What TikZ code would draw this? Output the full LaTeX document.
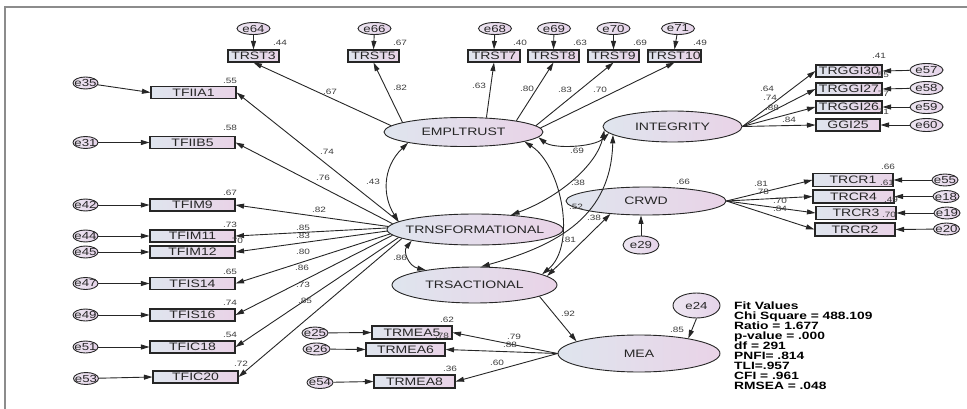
\documentclass[tikz,border=0pt]{standalone}
\usepackage{fontspec}
\setmainfont{Liberation Sans}
\newfontfamily\amos[FakeStretch=1.3]{Liberation Sans}
\usetikzlibrary{shapes.geometric,arrows.meta,calc}

\definecolor{shadeL}{HTML}{DFE5EE}
\definecolor{shadeR}{HTML}{E9D3E7}
\definecolor{errL}{HTML}{EDE6F1}
\definecolor{errR}{HTML}{E5D3E9}
\definecolor{ink}{HTML}{262626}
\definecolor{numcol}{HTML}{3C3C3C}
\definecolor{framecol}{HTML}{8C8C8C}

% zero-width text so the shapes keep their given size
\newcommand\zw[1]{\makebox[0pt]{#1}}

\tikzset{
  obs/.style={rectangle, draw=ink, line width=1.1pt, left color=shadeL, right color=shadeR,
    inner sep=0pt, minimum height=12pt, text=ink, font=\amos\fontsize{10.8}{12}\selectfont},
  lat/.style={ellipse, draw=ink, line width=0.9pt, left color=shadeL, right color=shadeR,
    inner sep=0pt, text=ink, font=\amos\fontsize{10.8}{12}\selectfont},
  err/.style={ellipse, draw=ink, line width=0.9pt, left color=errL, right color=errR,
    inner sep=0pt, minimum width=33pt, minimum height=12pt, text=ink,
    font=\amos\fontsize{10.2}{12}\selectfont},
  errs/.style={err, minimum width=25pt},
  num/.style={inner sep=0pt, text=numcol, font=\amos\fontsize{7.7}{9}\selectfont},
  fitline/.style={inner sep=0pt, anchor=base west, text=black,
    font=\amos\bfseries\fontsize{10.6}{12}\selectfont},
  tip/.tip={Triangle[length=8.5pt,width=5pt]},
  link/.style={draw=ink, line width=0.9pt, -tip},
  cov/.style={draw=ink, line width=0.9pt, tip-tip},
}

\begin{document}
\begin{tikzpicture}[x=1pt,y=-1pt]
\useasboundingbox (0,0) rectangle (967,409);

% page frame
\draw[framecol, line width=1.4pt] (5,409) -- (5,7) -- (967,7);

% ---------- latent variables ----------
\node[lat, minimum width=159, minimum height=29] (emp)   at (463.5,132)   {\zw{EMPLTRUST}};
\node[lat, minimum width=139, minimum height=31] (integ) at (672.5,126.5) {\zw{INTEGRITY}};
\node[lat, minimum width=160, minimum height=28] (crwd)  at (646,201)     {\zw{CRWD}};
\node[lat, minimum width=176, minimum height=31] (trns)  at (475,229.5)   {\zw{TRNSFORMATIONAL}};
\node[lat, minimum width=165, minimum height=36] (trsa)  at (474.5,285)   {\zw{TRSACTIONAL}};
\node[lat, minimum width=162, minimum height=37] (mea)   at (639,353.5)   {\zw{MEA}};
\node[err, minimum width=36, minimum height=18] (e29) at (641,245)   {\zw{e29}};
\node[err, minimum width=47, minimum height=25] (e24) at (696.5,305.5) {\zw{e24}};

% ---------- trust items (top row) ----------
\node[obs, minimum width=51] (trst3)  at (253.5,56) {\zw{TRST3}};
\node[obs, minimum width=51] (trst5)  at (373.5,56) {\zw{TRST5}};
\node[obs, minimum width=52] (trst7)  at (494,56)   {\zw{TRST7}};
\node[obs, minimum width=51] (trst8)  at (553.5,56) {\zw{TRST8}};
\node[obs, minimum width=51] (trst9)  at (613.5,56) {\zw{TRST9}};
\node[obs, minimum width=53] (trst10) at (674.5,56) {\zw{TRST10}};
\node[err] (e64) at (253.5,28.5) {\zw{e64}};
\node[err] (e66) at (374.5,28.5) {\zw{e66}};
\node[err] (e68) at (495,28.5)   {\zw{e68}};
\node[err] (e69) at (554,28.5)   {\zw{e69}};
\node[err] (e70) at (613.5,28.5) {\zw{e70}};
\node[err] (e71) at (678,28.5)   {\zw{e71}};
\foreach \e/\b in {e64/trst3,e66/trst5,e68/trst7,e69/trst8,e70/trst9,e71/trst10}
  \draw[link] (\e) -- (\b.north);

% ---------- transformational items (left column) ----------
\node[obs, minimum width=85] (tfiia1) at (193.5,92.5) {\zw{TFIIA1}};
\node[obs, minimum width=85] (tfiib5) at (192.5,142.5) {\zw{TFIIB5}};
\node[obs, minimum width=85] (tfim9)  at (192.5,205)  {\zw{TFIM9}};
\node[obs, minimum width=85] (tfim11) at (192.5,236)  {\zw{TFIM11}};
\node[obs, minimum width=85] (tfim12) at (192.5,252)  {\zw{TFIM12}};
\node[obs, minimum width=85] (tfis14) at (192.5,283.5) {\zw{TFIS14}};
\node[obs, minimum width=85] (tfis16) at (192.5,315)  {\zw{TFIS16}};
\node[obs, minimum width=85] (tfic18) at (192.5,347)  {\zw{TFIC18}};
\node[obs, minimum width=85] (tfic20) at (195.5,377)  {\zw{TFIC20}};
\node[errs] (e35) at (85.5,83)    {\zw{e35}};
\node[errs] (e31) at (85.5,142.5) {\zw{e31}};
\node[errs] (e42) at (85.5,205)   {\zw{e42}};
\node[errs] (e44) at (85.5,236)   {\zw{e44}};
\node[errs] (e45) at (85.5,252)   {\zw{e45}};
\node[errs] (e47) at (85.5,283.5) {\zw{e47}};
\node[errs] (e49) at (85.5,315)   {\zw{e49}};
\node[errs] (e51) at (85.5,347)   {\zw{e51}};
\node[errs] (e53) at (86,378.5)   {\zw{e53}};
\foreach \e/\b in {e35/tfiia1,e31/tfiib5,e42/tfim9,e44/tfim11,e45/tfim12,
                   e47/tfis14,e49/tfis16,e51/tfic18,e53/tfic20}
  \draw[link] (\e) -- (\b.west);
\foreach \a/\b in {174/tfiia1,176/tfiib5,178/tfim9,179/tfim11,181/tfim12,
                   183/tfis14,184/tfis16,186/tfic18,187/tfic20}
  \draw[link] (trns.\a) -- (\b.east);

% ---------- integrity items ----------
\node[obs, minimum width=66] (trggi30) at (849,71)  {\zw{TRGGI30}};
\node[obs, minimum width=66] (trggi27) at (849,89)  {\zw{TRGGI27}};
\node[obs, minimum width=66] (trggi26) at (849,107) {\zw{TRGGI26}};
\node[obs, minimum width=64] (ggi25)   at (848,125) {\zw{GGI25}};
\node[err, minimum height=13] (e57) at (926.5,70)  {\zw{e57}};
\node[err, minimum height=13] (e58) at (926.5,88)  {\zw{e58}};
\node[err, minimum height=13] (e59) at (926.5,107) {\zw{e59}};
\node[err, minimum height=13] (e60) at (926.5,125) {\zw{e60}};
\foreach \e/\b in {e57/trggi30,e58/trggi27,e59/trggi26,e60/ggi25}{
  \draw[link] (\e) -- (\b.east);
  \draw[link] (integ.east) -- (\b.west);
}

% ---------- crwd items ----------
\node[obs, minimum width=80, minimum height=13] (trcr1) at (853,180)   {\zw{TRCR1}};
\node[obs, minimum width=81, minimum height=13] (trcr4) at (853.5,196.5) {\zw{TRCR4}};
\node[obs, minimum width=80, minimum height=13] (trcr3) at (856,213)   {\zw{TRCR3}};
\node[obs, minimum width=80, minimum height=13] (trcr2) at (855,229.5) {\zw{TRCR2}};
\node[err, minimum width=26] (e55) at (945,180)   {\zw{e55}};
\node[err, minimum width=26] (e18) at (946,196.5) {\zw{e18}};
\node[err, minimum width=26] (e19) at (947,213)   {\zw{e19}};
\node[err, minimum width=26] (e20) at (946.5,229) {\zw{e20}};
\foreach \e/\b in {e55/trcr1,e18/trcr4,e19/trcr3,e20/trcr2}{
  \draw[link] (\e) -- (\b.east);
  \draw[link] (crwd.east) -- (\b.west);
}
\draw[link] (e29.north) -- (e29.north |- crwd.south);

% ---------- mea items ----------
\node[obs, minimum width=80, minimum height=13] (trmea5) at (412,332.5)   {\zw{TRMEA5}};
\node[obs, minimum width=79, minimum height=13] (trmea6) at (405.5,349.5) {\zw{TRMEA6}};
\node[obs, minimum width=81, minimum height=13] (trmea8) at (414.5,381.5) {\zw{TRMEA8}};
\node[err, minimum width=26] (e25) at (315,333)   {\zw{e25}};
\node[err, minimum width=27] (e26) at (316.5,349) {\zw{e26}};
\node[err, minimum width=26] (e54) at (320,382.5) {\zw{e54}};
\foreach \e/\b in {e25/trmea5,e26/trmea6,e54/trmea8}{
  \draw[link] (\e) -- (\b.west);
  \draw[link] (mea.west) -- (\b.east);
}
\draw[link] (e24.south) -- (mea.17);
\draw[link] (trsa.350) -- (mea.169);

% ---------- trust loadings ----------
\draw[link] (emp.175) -- (trst3.south);
\draw[link] (emp.171) -- (trst5.south);
\draw[link] (emp.32)  -- (trst7.south);
\draw[link] (emp.12)  -- (trst8.south);
\draw[link] (emp.5)   -- (trst9.south);
\draw[link] (emp.3)   -- (trst10.south);

% ---------- covariances ----------
\draw[cov] (emp.191) .. controls ($(emp.191)+(-26,25)$) and ($(trns.174)+(-16,-25)$) .. (trns.174);
\draw[cov] (emp.356) .. controls ($(emp.356)+(15,12)$) and ($(integ.186)+(-15,14)$) .. (integ.186);
\draw[cov] (integ.183) .. controls ($(integ.183)+(-7,34)$) and ($(trns.22)+(49,-18)$) .. (trns.22);
\draw[cov] (integ.188) .. controls ($(integ.188)+(-2,80)$) and ($(trsa.70)+(79,-22)$) .. (trsa.70);
\draw[cov] (emp.351) .. controls ($(emp.351)+(37,24)$) and ($(trsa.9)+(35,-29)$) .. (trsa.9);
\draw[cov] (trns.190) .. controls ($(trns.190)+(-9,11)$) and ($(trsa.163)+(-17,-4)$) .. (trsa.163);
\draw[cov] (crwd.200) -- (trsa.7);

% ---------- estimates ----------
\foreach \x/\y/\t [count=\i] in {
  280/43/.44, 400/43/.67, 520/43/.40, 580/43/.63, 640/43/.69, 700/43/.49,
  230/81/.55, 230/128/.58, 230/193/.67, 230/225/.73, 236/241/.70,
  230/272/.65, 230/303/.74, 230/335/.54, 241/364/.72,
  879/56/.41, 882/75/.55, 882/94/.77, 882/112/.71,
  888/167/.66, 887/183/.61, 891/200/.49, 889/215/.70,
  447/320/.62, 442/336/.78, 450/369/.36,
  683/182/.66, 677/330/.85,
  330/92/.67, 400/88/.82, 479/86/.63, 527/89/.80, 565/90/.83, 600/90/.70,
  327/152/.74, 323/178/.76, 319/210/.82, 303/228/.85, 303/236/.83, 303/252/.80,
  302/268/.86, 303/285/.73, 305/301/.85,
  767/89/.64, 770/98/.74, 772/108/.88, 789/120/.84,
  761/184/.81, 762/192/.78, 780/201/.70, 780/209/.84,
  514/337/.79, 510/345/.88, 497/363/.60, 568/314/.92,
  373/182/.43, 577/151/.69, 578/183/.38, 576/207/.52, 594/218/.38,
  569/240/.81, 400/258/.86}
  \node[num] (est\i) at (\x,\y) {\t};

% ---------- fit summary ----------
\foreach \t [count=\i] in {Fit Values, Chi Square = 488.109, Ratio = 1.677,
  p-value = .000, df = 291, PNFI= .814, TLI=.957, CFI = .961, RMSEA = .048}
  \node[fitline] (fit\i) at (734,{299.9+9.9*\i}) {\t};
\end{tikzpicture}
\end{document}
